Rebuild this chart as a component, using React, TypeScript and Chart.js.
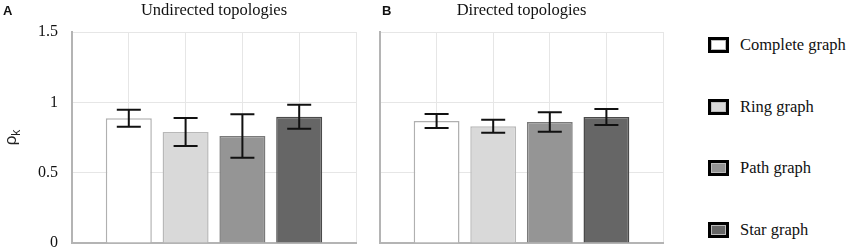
import React, { useEffect, useRef } from "react";
import { Chart, registerables } from "chart.js";

Chart.register(...registerables);

// ---- data ----
const categories = ["Complete graph", "Ring graph", "Path graph", "Star graph"];
const positions = [1, 2, 3, 4];
const xGridValues = [0, 1, 2, 3, 4, 5];
const undirectedMeans = [0.887, 0.789, 0.761, 0.898];
const undirectedErrors = [0.06, 0.1, 0.155, 0.085];
const directedMeans = [0.867, 0.83, 0.86, 0.896];
const directedErrors = [0.05, 0.047, 0.07, 0.057];
const yTicks = [0, 0.5, 1, 1.5];
const panelTitles = ["Undirected topologies", "Directed topologies"];
const panelLetters = ["A", "B"];

const fills = ["#ffffff", "#d9d9d9", "#959595", "#666666"];
const borders = ["#b0b0b0", "#b8b8b8", "#7a7a7a", "#4a4a4a"];

const SERIF = "Liberation Serif, Times New Roman, serif";
const SANS = "Liberation Sans, Arial, sans-serif";

function errorBarPlugin(means: number[], errors: number[]) {
  return {
    id: "errorBars",
    afterDatasetsDraw(chart: any) {
      const x = chart.scales.x;
      const y = chart.scales.y;
      const ctx = chart.ctx;
      ctx.save();
      ctx.strokeStyle = "#111111";
      ctx.lineWidth = 2;
      const cap = 12;
      positions.forEach((p, i) => {
        const px = x.getPixelForValue(p);
        const top = y.getPixelForValue(means[i] + errors[i]);
        const bot = y.getPixelForValue(means[i] - errors[i]);
        ctx.beginPath();
        ctx.moveTo(px, top);
        ctx.lineTo(px, bot);
        ctx.moveTo(px - cap, top);
        ctx.lineTo(px + cap, top);
        ctx.moveTo(px - cap, bot);
        ctx.lineTo(px + cap, bot);
        ctx.stroke();
      });
      ctx.restore();
    },
  };
}

const yTitlePlugin = {
  id: "yTitle",
  afterDraw(chart: any) {
    const ctx = chart.ctx;
    const area = chart.chartArea;
    const cy = (area.top + area.bottom) / 2;
    ctx.save();
    ctx.translate(16, cy);
    ctx.rotate(-Math.PI / 2);
    ctx.fillStyle = "#222222";
    ctx.textBaseline = "alphabetic";
    ctx.textAlign = "left";
    const rFont = `17px ${SANS}`;
    const kFont = `12px ${SANS}`;
    ctx.font = rFont;
    const w = ctx.measureText("ρ").width;
    ctx.font = kFont;
    const kw = ctx.measureText("k").width;
    const total = w + kw;
    ctx.font = rFont;
    ctx.fillText("ρ", -total / 2, 0);
    ctx.font = kFont;
    ctx.fillText("k", -total / 2 + w, 4);
    ctx.restore();
  },
};

function makeConfig(means: number[], errors: number[], showLabels: boolean, yWidth: number, padRight: number) {
  return {
    type: "bar" as const,
    data: {
      datasets: [
        {
          data: positions.map((p, i) => ({ x: p, y: means[i] })),
          backgroundColor: fills,
          borderColor: borders,
          borderWidth: 1.5,
          barPercentage: 1,
          categoryPercentage: 0.81,
        },
      ],
    },
    options: {
      responsive: false,
      animation: false,
      layout: { padding: { top: 32, right: padRight, bottom: 9, left: 0 } },
      plugins: {
        legend: { display: false },
        tooltip: { enabled: false },
        title: { display: false },
      },
      scales: {
        x: {
          type: "linear",
          min: 0,
          max: 5,
          offset: false,
          afterBuildTicks: (s: any) => {
            s.ticks = xGridValues.map((v) => ({ value: v }));
          },
          ticks: { display: false, autoSkip: false },
          grid: { color: "#e6e6e6", lineWidth: 1, drawTicks: false, offset: false },
          border: { display: true, color: "#b4b4b4", width: 2 },
          afterFit: (s: any) => {
            s.height = 0;
            s.paddingLeft = 0;
            s.paddingRight = 0;
          },
        },
        y: {
          min: 0,
          max: 1.5,
          afterBuildTicks: (s: any) => {
            s.ticks = yTicks.map((v) => ({ value: v }));
          },
          ticks: {
            display: showLabels,
            padding: 14,
            color: "#111111",
            font: { family: SERIF, size: 16 },
            callback: (v: any) => String(v),
          },
          grid: { color: "#e6e6e6", lineWidth: 1, drawTicks: false },
          border: { display: true, color: "#b4b4b4", width: 2 },
          afterFit: (s: any) => {
            s.width = yWidth;
            s.paddingTop = 0;
            s.paddingBottom = 0;
          },
        },
      },
    },
    plugins: showLabels ? [errorBarPlugin(means, errors), yTitlePlugin] : [errorBarPlugin(means, errors)],
  };
}

function Panel(props: { left: number; width: number; means: number[]; errors: number[]; showLabels: boolean; yWidth: number; padRight: number }) {
  const ref = useRef<HTMLCanvasElement | null>(null);
  useEffect(() => {
    if (!ref.current) return;
    const chart = new Chart(ref.current, makeConfig(props.means, props.errors, props.showLabels, props.yWidth, props.padRight) as any);
    return () => chart.destroy();
  }, []);
  return (
    <canvas
      ref={ref}
      width={props.width}
      height={252}
      style={{ position: "absolute", left: props.left, top: 0, width: props.width, height: 252, display: "block" }}
    />
  );
}

export default function App() {
  const legendCenters = [45, 106.5, 168, 229.5];
  return (
    <div style={{ position: "absolute", left: 0, top: 0, width: 850, height: 252, background: "#ffffff", overflow: "hidden" }}>
      <Panel left={0} width={360} means={undirectedMeans} errors={undirectedErrors} showLabels={true} yWidth={72} padRight={4} />
      <Panel left={360} width={310} means={directedMeans} errors={directedErrors} showLabels={false} yWidth={20} padRight={7} />

      <div style={{ position: "absolute", left: 3, top: 3, font: `bold 13px ${SANS}`, color: "#111" }}>{panelLetters[0]}</div>
      <div style={{ position: "absolute", left: 382, top: 3, font: `bold 13px ${SANS}`, color: "#111" }}>{panelLetters[1]}</div>

      <div style={{ position: "absolute", left: 72, width: 284, top: 1, textAlign: "center", font: `16.5px ${SERIF}`, lineHeight: "18px", color: "#111" }}>
        {panelTitles[0]}
      </div>
      <div style={{ position: "absolute", left: 380, width: 283, top: 1, textAlign: "center", font: `16.5px ${SERIF}`, lineHeight: "18px", color: "#111" }}>
        {panelTitles[1]}
      </div>

      {categories.map((c, i) => (
        <div key={c} style={{ position: "absolute", left: 708, top: legendCenters[i] - 9, height: 18, display: "flex", alignItems: "center" }}>
          <div
            style={{
              width: 21,
              height: 16,
              boxSizing: "border-box",
              border: "3px solid #000",
              background: fills[i],
              boxShadow: "inset 0 0 0 1px #bbbbbb",
            }}
          />
          <span style={{ marginLeft: 11, font: `16.5px ${SERIF}`, color: "#111", whiteSpace: "nowrap" }}>{c}</span>
        </div>
      ))}
    </div>
  );
}
